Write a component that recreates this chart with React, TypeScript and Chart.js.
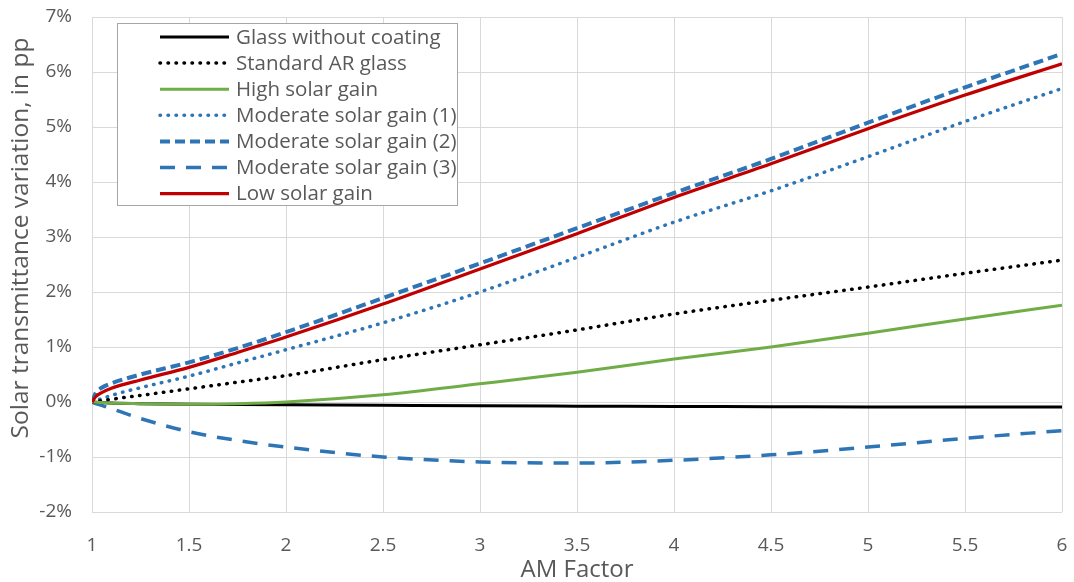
import React, { useEffect, useRef } from "react";
import { Chart, registerables } from "chart.js";

Chart.register(...registerables);

const amFactor = [1, 1.02, 1.05, 1.1, 1.25, 1.5, 1.75, 2, 2.5, 3, 3.5, 4, 4.5, 5, 5.5, 6];

const glassWithoutCoating = [0, -0.005, -0.01, -0.02, -0.03, -0.04, -0.045, -0.05, -0.06, -0.07, -0.075, -0.08, -0.085, -0.09, -0.09, -0.09];
const standardARGlass = [0, 0.01, 0.025, 0.05, 0.12, 0.24, 0.36, 0.48, 0.77, 1.04, 1.31, 1.6, 1.85, 2.09, 2.34, 2.58];
const highSolarGain = [0, -0.005, -0.01, -0.02, -0.03, -0.04, -0.03, 0, 0.13, 0.33, 0.54, 0.78, 1.0, 1.25, 1.51, 1.76];
const moderateSolarGain1 = [0, 0.03, 0.06, 0.12, 0.26, 0.47, 0.71, 0.95, 1.44, 2.0, 2.63, 3.27, 3.84, 4.46, 5.1, 5.7];
const moderateSolarGain2 = [0, 0.17, 0.26, 0.34, 0.5, 0.72, 0.98, 1.27, 1.89, 2.52, 3.16, 3.8, 4.42, 5.08, 5.72, 6.33];
const moderateSolarGain3 = [0, -0.03, -0.06, -0.12, -0.3, -0.54, -0.7, -0.82, -1.0, -1.09, -1.11, -1.06, -0.96, -0.82, -0.66, -0.52];
const lowSolarGain = [0, 0.1, 0.17, 0.25, 0.4, 0.63, 0.9, 1.18, 1.78, 2.42, 3.06, 3.72, 4.33, 4.97, 5.58, 6.15];

const seriesLabels = [
  "Glass without coating",
  "Standard AR glass",
  "High solar gain",
  "Moderate solar gain (1)",
  "Moderate solar gain (2)",
  "Moderate solar gain (3)",
  "Low solar gain",
];

const xTitle = "AM Factor";
const yTitle = "Solar transmittance variation, in pp";

const FONT = "'Open Sans', 'Noto Sans', sans-serif";
const TEXT = "#595959";
const BLUE = "#2E75B6";

const toPoints = (vals: number[]) => vals.map((v, i) => ({ x: amFactor[i], y: v }));

const boxLegend = {
  id: "boxLegend",
  afterDatasetsDraw(chart: any) {
    const ctx = chart.ctx as CanvasRenderingContext2D;
    const { left, top } = chart.chartArea;
    const bx = Math.round(left) + 25;
    const by = Math.round(top) + 6;
    const bw = 340;
    const bh = 182;
    ctx.save();
    ctx.fillStyle = "#ffffff";
    ctx.fillRect(bx, by, bw, bh);
    ctx.strokeStyle = "#a6a6a6";
    ctx.lineWidth = 1;
    ctx.strokeRect(bx + 0.5, by + 0.5, bw, bh);
    chart.data.datasets.forEach((ds: any, i: number) => {
      const y = by + 14 + i * 26.1;
      ctx.beginPath();
      ctx.setLineDash(ds.borderDash || []);
      ctx.lineCap = ds.borderCapStyle || "butt";
      ctx.lineWidth = ds.borderWidth;
      ctx.strokeStyle = ds.borderColor;
      ctx.moveTo(bx + 43, y);
      ctx.lineTo(bx + 112, y);
      ctx.stroke();
      ctx.setLineDash([]);
      ctx.fillStyle = TEXT;
      ctx.font = `20.5px ${FONT}`;
      ctx.textBaseline = "middle";
      ctx.textAlign = "left";
      ctx.fillText(ds.label, bx + 119, y + 1);
    });
    ctx.restore();
  },
};

const yTitlePlugin = {
  id: "yTitlePlugin",
  afterDraw(chart: any) {
    const ctx = chart.ctx as CanvasRenderingContext2D;
    ctx.save();
    ctx.translate(21, 238);
    ctx.rotate(-Math.PI / 2);
    ctx.fillStyle = TEXT;
    ctx.font = `24.5px ${FONT}`;
    ctx.textAlign = "center";
    ctx.textBaseline = "middle";
    ctx.fillText(yTitle, 0, 0);
    ctx.restore();
  },
};

export default function App() {
  const ref = useRef<HTMLCanvasElement>(null);

  useEffect(() => {
    if (!ref.current) return;
    const common = { pointRadius: 0, fill: false, cubicInterpolationMode: "monotone" as const };
    const chart = new Chart(ref.current, {
      type: "line",
      data: {
        datasets: [
          { ...common, label: seriesLabels[0], data: toPoints(glassWithoutCoating), borderColor: "#000000", borderWidth: 3, order: 3 },
          { ...common, label: seriesLabels[1], data: toPoints(standardARGlass), borderColor: "#000000", borderWidth: 3.5, borderDash: [0.5, 7.5], borderCapStyle: "round", order: 4 },
          { ...common, label: seriesLabels[2], data: toPoints(highSolarGain), borderColor: "#70AD47", borderWidth: 3, order: 2 },
          { ...common, label: seriesLabels[3], data: toPoints(moderateSolarGain1), borderColor: BLUE, borderWidth: 3.5, borderDash: [0.5, 7.5], borderCapStyle: "round", order: 5 },
          { ...common, label: seriesLabels[4], data: toPoints(moderateSolarGain2), borderColor: BLUE, borderWidth: 4, borderDash: [10, 5], order: 6 },
          { ...common, label: seriesLabels[5], data: toPoints(moderateSolarGain3), borderColor: BLUE, borderWidth: 3.5, borderDash: [15, 11], order: 7 },
          { ...common, label: seriesLabels[6], data: toPoints(lowSolarGain), borderColor: "#C00000", borderWidth: 3.2, order: 0 },
        ] as any,
      },
      options: {
        animation: false,
        responsive: false,
        layout: { padding: { left: 0, top: 17, right: 12, bottom: 0 } },
        plugins: { legend: { display: false }, tooltip: { enabled: false } },
        scales: {
          x: {
            type: "linear",
            min: 1,
            max: 6,
            ticks: { stepSize: 0.5, color: TEXT, font: { family: FONT, size: 19 }, padding: 22, callback: (v: any) => `${Number(v)}` },
            grid: { color: "#d9d9d9", lineWidth: 1, drawTicks: false },
            border: { display: false },
            title: { display: true, text: xTitle, color: TEXT, font: { family: FONT, size: 24 }, padding: { top: 0, bottom: -3 } },
            afterFit: (s: any) => { s.height = 70; s.paddingLeft = 0; s.paddingRight = 0; },
          },
          y: {
            type: "linear",
            min: -2,
            max: 7,
            ticks: { stepSize: 1, color: TEXT, font: { family: FONT, size: 19 }, padding: 20, callback: (v: any) => `${v}%` },
            grid: { color: "#d9d9d9", lineWidth: 1, drawTicks: false },
            border: { display: false },
            afterFit: (s: any) => { s.width = 92; s.paddingTop = 0; s.paddingBottom = 0; },
          },
        },
      },
      plugins: [boxLegend, yTitlePlugin],
    });
    return () => chart.destroy();
  }, []);

  return (
    <div style={{ position: "fixed", left: 0, top: 0, width: 1074, height: 582, background: "#fff" }}>
      <canvas ref={ref} width={1074} height={582} />
    </div>
  );
}
